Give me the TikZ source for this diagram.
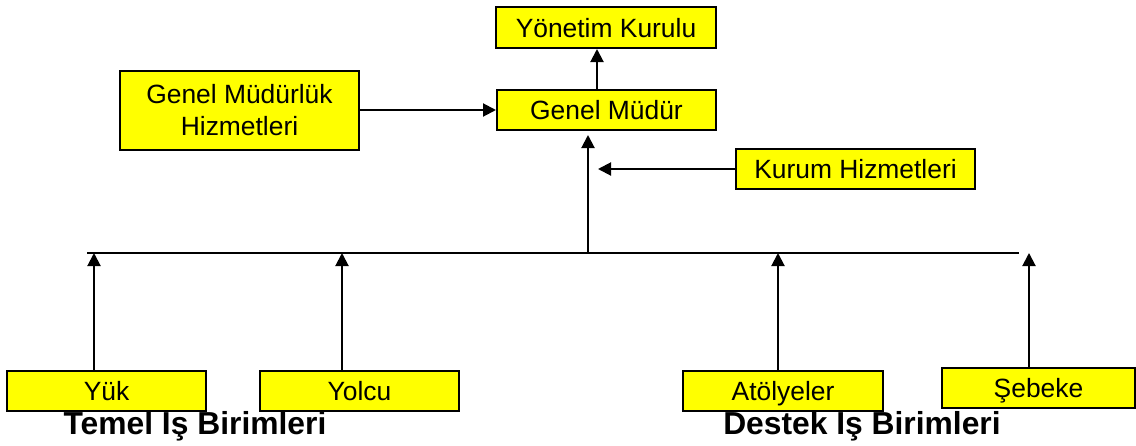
\documentclass[tikz,border=0pt]{standalone}
\usepackage{fontspec}
\setmainfont{Liberation Sans}
\usepackage{tikz}
\usetikzlibrary{arrows.meta}
\definecolor{unitfill}{RGB}{255,255,0}
\tikzset{
    boxbase/.style={draw=black,fill=unitfill,line width=1pt,inner sep=0pt,minimum height=20pt,align=center,font=\fontsize{13.2}{16}\selectfont},
    unit/.style={boxbase,text height=9.5pt,text depth=0pt},
    arr/.style={-{Triangle[width=6.5pt,length=6.5pt]},line width=1pt},
    group/.style={anchor=base,font=\fontsize{15.9}{19}\selectfont\bfseries}
}
\newcommand{\uparr}[2]{
    \coordinate (#1bus) at (#2,253);
    \draw[arr] (#1.north -| #1bus)--(#1bus);
}

\begin{document}
\begin{tikzpicture}[x=0.5pt,y=-0.5pt]
\useasboundingbox (0,0) rectangle (1136,445);
    \node[unit,minimum width=110pt,minimum height=20.5pt] (yk) at (606,27.5) {Yönetim Kurulu};
    \node[unit,minimum width=109.5pt] (gm) at (606.5,110) {Genel Müdür};
    \node[boxbase,minimum width=119.5pt,minimum height=39.5pt] (gmh) at (239.5,110.5) {Genel Müdürlük\\Hizmetleri};
    \node[unit,minimum width=119.5pt] (kh) at (855.5,169) {Kurum Hizmetleri};
    \node[unit,minimum width=99.5pt] (yuk) at (106.5,391) {Yük};
    \node[unit,minimum width=99.5pt] (yolcu) at (359.5,391) {Yolcu};
    \node[unit,minimum width=100pt] (atol) at (783,391) {Atölyeler};
    \node[unit,minimum width=96.5pt] (sebeke) at (1038.5,388) {Şebeke};
    \node[group] (temel) at (195,434) {Temel Iş Birimleri};
    \node[group] (destek) at (862,434) {Destek Iş Birimleri};
    \coordinate (ykx) at (597,0);
    \draw[arr] (gm.north -| ykx)--(yk.south -| ykx);
    \draw[arr] (gmh.east |- gm.west)--(gm.west);
    \coordinate (khtip) at (598,169);
    \draw[arr] (kh.west)--(khtip);
    \coordinate (busL) at (87,253);
    \coordinate (busR) at (1019,253);
    \coordinate (busmid) at (588,253);
    \coordinate (gmtip) at (588,135);
    \draw[line width=0.9pt] (busL)--(busR);
    \draw[arr] (busmid)--(gmtip);
\uparr{yuk}{94}\uparr{yolcu}{342}\uparr{atol}{778}\uparr{sebeke}{1029}
\end{tikzpicture}
\end{document}
